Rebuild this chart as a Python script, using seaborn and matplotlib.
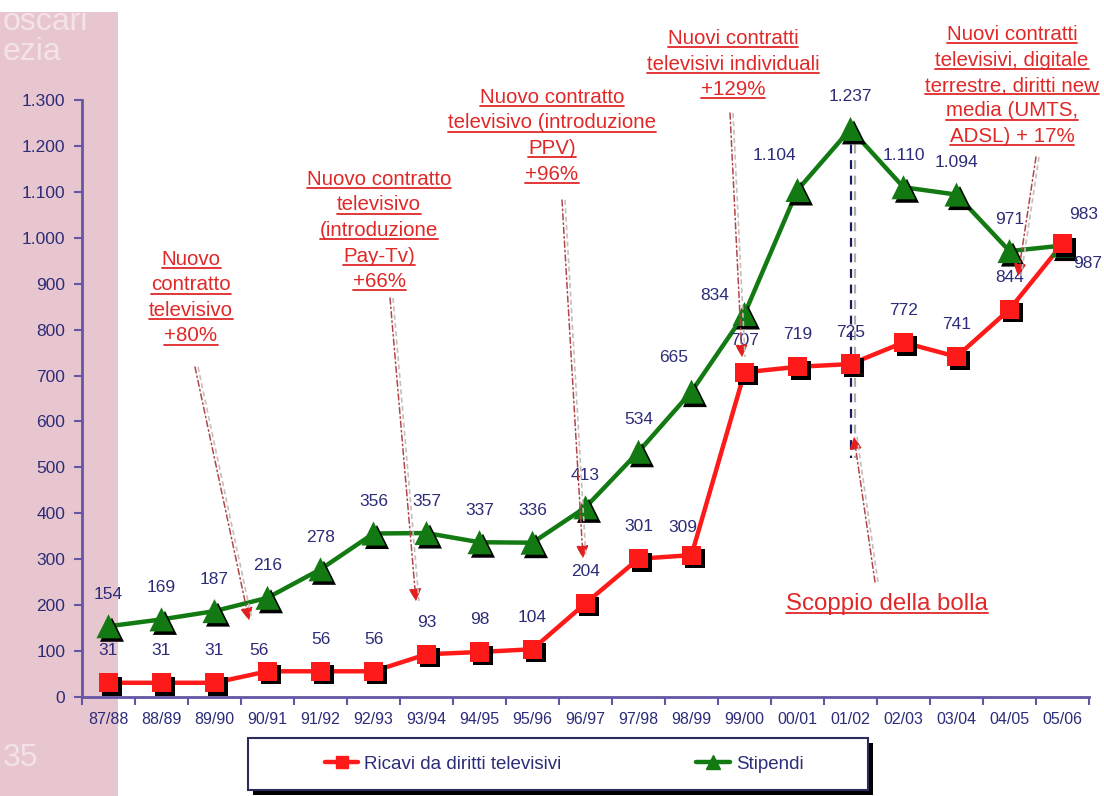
import numpy as np
import pandas as pd
import matplotlib
matplotlib.use("Agg")
import matplotlib.pyplot as plt
import matplotlib.patheffects as pe
from matplotlib.lines import Line2D
from matplotlib.patches import Rectangle
from matplotlib.ticker import FuncFormatter, FixedLocator
import seaborn as sns

# ---------------- data ----------------
seasons = ["87/88", "88/89", "89/90", "90/91", "91/92", "92/93", "93/94", "94/95",
           "95/96", "96/97", "97/98", "98/99", "99/00", "00/01", "01/02", "02/03",
           "03/04", "04/05", "05/06"]
ricavi = [31, 31, 31, 56, 56, 56, 93, 98, 104, 204, 301, 309, 707, 719, 725, 772, 741, 844, 987]
stipendi = [154, 169, 187, 216, 278, 356, 357, 337, 336, 413, 534, 665, 834, 1104, 1237, 1110, 1094, 971, 983]
series_names = ["Ricavi da diritti televisivi", "Stipendi"]
y_ticks = list(range(0, 1301, 100))

annotations = [
    ["Nuovo", "contratto", "televisivo", "+80%"],
    ["Nuovo contratto", "televisivo", "(introduzione", "Pay-Tv)", "+66%"],
    ["Nuovo contratto", "televisivo (introduzione", "PPV)", "+96%"],
    ["Nuovi contratti", "televisivi individuali", "+129%"],
    ["Nuovi contratti", "televisivi, digitale", "terrestre, diritti new", "media (UMTS,", "ADSL) + 17%"],
]
bubble_label = "Scoppio della bolla"
watermarks = ["oscari", "ezia", "35"]

# ---------------- style ----------------
W, H = 1104, 796
sns.set_theme(style="white")
plt.rcParams["font.family"] = ["Liberation Sans", "DejaVu Sans"]

RED = "#ff1a1a"
GREEN = "#137a13"
NAVY = "#2c2c78"
AXIS = "#6555a5"
ANN = "#e02828"
PINK = "#e8c6cf"

fig = plt.figure(figsize=(W / 100, H / 100), dpi=100)
fig.patch.set_facecolor("white")


def fx(x):
    return x / W


def fy(y):
    return 1 - y / H


# pink side band with watermark texts
fig.add_artist(Rectangle((0, 0), fx(118), fy(12), transform=fig.transFigure,
                         facecolor=PINK, edgecolor="none", zorder=-10))
for txt, (px, py) in zip(watermarks, [(3, 30), (3, 60), (3, 766)]):
    fig.text(fx(px), fy(py), txt, color="white", alpha=0.5, fontsize=23, va="baseline")

ax = fig.add_axes([fx(82), 1 - 697 / H, fx(1089 - 82), (697 - 100) / H])
ax.set_facecolor("none")

df = pd.DataFrame({"idx": np.arange(len(seasons)), "season": seasons,
                   "ricavi": ricavi, "stipendi": stipendi})

shadow = [pe.SimplePatchShadow(offset=(2.5, -2.5), shadow_rgbFace="black", alpha=1.0), pe.Normal()]

sns.lineplot(data=df, x="idx", y="stipendi", ax=ax, color=GREEN, lw=3.2, sort=False, zorder=3)
sns.lineplot(data=df, x="idx", y="ricavi", ax=ax, color=RED, lw=3.2, sort=False, zorder=3)
sns.scatterplot(data=df, x="idx", y="stipendi", ax=ax, color=GREEN, marker="^", s=300,
                edgecolor="none", zorder=4, path_effects=shadow)
sns.scatterplot(data=df, x="idx", y="ricavi", ax=ax, color=RED, marker="s", s=190,
                edgecolor="none", zorder=5, path_effects=shadow)

ax.set_xlim(-0.5, len(seasons) - 0.5)
ax.set_ylim(0, 1300)
ax.set_xlabel("")
ax.set_ylabel("")

# axes styling
for s in ["top", "right"]:
    ax.spines[s].set_visible(False)
for s in ["left", "bottom"]:
    ax.spines[s].set_color(AXIS)
    ax.spines[s].set_linewidth(2)

ax.yaxis.set_major_locator(FixedLocator(y_ticks))
ax.yaxis.set_major_formatter(FuncFormatter(lambda v, p: f"{int(v):,}".replace(",", ".")))
ax.tick_params(axis="y", which="major", left=True, length=6, width=1.5, color=AXIS,
               labelcolor=NAVY, labelsize=12.5, pad=6)

ax.xaxis.set_major_locator(FixedLocator(np.arange(-0.5, len(seasons), 1.0)))
ax.xaxis.set_major_formatter(FuncFormatter(lambda v, p: ""))
ax.set_xticks(np.arange(len(seasons)), labels=seasons, minor=True)
ax.tick_params(axis="x", which="major", bottom=True, length=6, width=1.5, color=AXIS)
ax.tick_params(axis="x", which="minor", bottom=True, length=0, labelcolor=NAVY,
               labelsize=11.5, pad=11)
ax.grid(False)

# data labels (offsets in pixels)
g_off = {11: (-18, 34), 12: (-30, 19), 13: (-23, 35), 18: (21, 31)}
r_off = {3: (-9, 21), 11: (-9, 28), 18: (25, -20)}
for i, v in enumerate(stipendi):
    dx, dy = g_off.get(i, (0, 32))
    ax.annotate(f"{v:,}".replace(",", "."), (i, v), xytext=(dx, dy), textcoords="offset pixels",
                ha="center", va="center", color=NAVY, fontsize=12.5, zorder=6)
for i, v in enumerate(ricavi):
    dx, dy = r_off.get(i, (0, 32))
    ax.annotate(f"{v:,}".replace(",", "."), (i, v), xytext=(dx, dy), textcoords="offset pixels",
                ha="center", va="center", color=NAVY, fontsize=12.5, zorder=6)

# dashed vertical line at 01/02
ax.plot([14, 14], [stipendi[14], 520], ls=(0, (4, 3)), color="#1c1c5c", lw=1.6, zorder=2,
        path_effects=[pe.SimpleLineShadow(offset=(3, 0), shadow_color="#999999", alpha=0.8), pe.Normal()])

# annotation texts (center x, first baseline y, line spacing) in pixels
ann_pos = [(191, 265, 25.5), (379, 185, 25.5), (552, 103, 25.5), (733, 44, 25.5), (1012, 40, 25.5)]
text_objs = []
for lines, (cx, by, sp) in zip(annotations, ann_pos):
    for k, ln in enumerate(lines):
        t = fig.text(fx(cx), fy(by + k * sp), ln, ha="center", va="baseline",
                     color=ANN, fontsize=14.8)
        text_objs.append((t, by + k * sp))
tb = fig.text(fx(887), fy(610), bubble_label, ha="center", va="baseline", color=ANN, fontsize=17.3)
text_objs.append((tb, 610))

# dotted arrows (start -> tip) in pixels
arrows = [((195, 367), (249, 620)), ((390, 298), (416, 601)), ((562, 200), (583, 558)),
          ((730, 113), (742, 357)), ((1036, 157), (1018, 276)), ((875, 582), (854, 437))]
for (x0, y0), (x1, y1) in arrows:
    fig.add_artist(Line2D([fx(x0 + 3), fx(x1 + 3)], [fy(y0), fy(y1)], transform=fig.transFigure,
                          color="#c8bcbc", lw=1.2, ls=(0, (3, 2))))
    ax.annotate("", xy=(x1, H - y1), xytext=(x0, H - y0), xycoords="figure pixels",
                textcoords="figure pixels",
                arrowprops=dict(arrowstyle="-|>,head_length=0.6,head_width=0.3", color="#b04848",
                                lw=1.1, ls=(0, (4, 2, 1, 2)), shrinkA=0, shrinkB=0), zorder=7)
    dx, dy = x1 - x0, y1 - y0
    n = np.hypot(dx, dy)
    ax.annotate("", xy=(x1, H - y1), xytext=(x1 - dx / n * 10, H - (y1 - dy / n * 10)),
                xycoords="figure pixels", textcoords="figure pixels",
                arrowprops=dict(arrowstyle="-|>,head_length=0.7,head_width=0.35", color="#e41e1e",
                                lw=0.1, shrinkA=0, shrinkB=0), zorder=8)

# legend box with shadow
fig.add_artist(Rectangle((fx(253), fy(795)), fx(620), 52 / H, transform=fig.transFigure,
                         facecolor="black", edgecolor="none", zorder=1))
fig.add_artist(Rectangle((fx(248), fy(790)), fx(620), 52 / H, transform=fig.transFigure,
                         facecolor="white", edgecolor="#2c2c5c", lw=1.5, zorder=2))
handles = [Line2D([0], [0], color=RED, lw=3.2, marker="s", ms=9, mec=RED),
           Line2D([0], [0], color=GREEN, lw=3.2, marker="^", ms=10, mec=GREEN)]
leg = fig.legend(handles, series_names, loc="center", ncol=2,
                 bbox_to_anchor=(fx(564), fy(764)), borderaxespad=0, frameon=False,
                 fontsize=13.5, handlelength=1.8, handletextpad=0.3, columnspacing=7.2,
                 labelcolor=NAVY)
leg.set_zorder(3)

# underline the annotation texts
fig.canvas.draw()
r = fig.canvas.get_renderer()
for t, by in text_objs:
    bb = t.get_window_extent(r)
    yy = fy(by + 3)
    fig.add_artist(Line2D([bb.x0 / W, bb.x1 / W], [yy, yy], transform=fig.transFigure,
                          color=ANN, lw=1.3))

fig.savefig("out.png", dpi=100)
